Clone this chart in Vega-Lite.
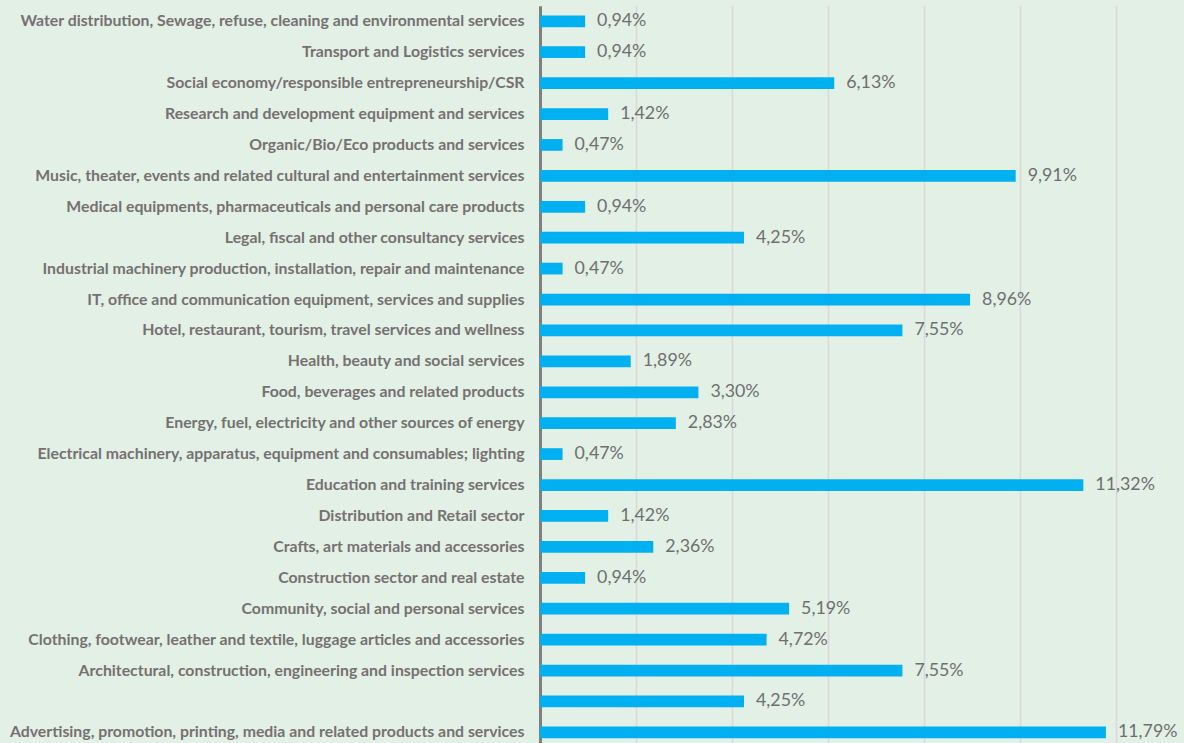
{
  "$schema": "https://vega.github.io/schema/vega-lite/v6.json",
  "autosize": "none",
  "width": 644,
  "height": 742,
  "padding": {"left": 540, "top": 5.8, "right": 0, "bottom": 0},
  "background": "#e2f0e6",
  "config": {
    "view": {"stroke": null},
    "locale": {"number": {"decimal": ",", "thousands": ".", "grouping": [3], "currency": ["", " €"]}}
  },
  "data": {
    "values": [
      {"order": 1, "sector": "Water distribution, Sewage, refuse, cleaning and environmental services", "pct": 0.0094},
      {"order": 2, "sector": "Transport and Logistics services", "pct": 0.0094},
      {"order": 3, "sector": "Social economy/responsible entrepreneurship/CSR", "pct": 0.0613},
      {"order": 4, "sector": "Research and development equipment and services", "pct": 0.0142},
      {"order": 5, "sector": "Organic/Bio/Eco products and services", "pct": 0.0047},
      {"order": 6, "sector": "Music, theater, events and related cultural and entertainment services", "pct": 0.0991},
      {"order": 7, "sector": "Medical equipments, pharmaceuticals and personal care products", "pct": 0.0094},
      {"order": 8, "sector": "Legal, fiscal and other consultancy services", "pct": 0.0425},
      {"order": 9, "sector": "Industrial machinery production, installation, repair and maintenance", "pct": 0.0047},
      {"order": 10, "sector": "IT, office and communication equipment, services and supplies", "pct": 0.0896},
      {"order": 11, "sector": "Hotel, restaurant, tourism, travel services and wellness", "pct": 0.0755},
      {"order": 12, "sector": "Health, beauty and social services", "pct": 0.0189},
      {"order": 13, "sector": "Food, beverages and related products", "pct": 0.0330},
      {"order": 14, "sector": "Energy, fuel, electricity and other sources of energy", "pct": 0.0283},
      {"order": 15, "sector": "Electrical machinery, apparatus, equipment and consumables; lighting", "pct": 0.0047},
      {"order": 16, "sector": "Education and training services", "pct": 0.1132},
      {"order": 17, "sector": "Distribution and Retail sector", "pct": 0.0142},
      {"order": 18, "sector": "Crafts, art materials and accessories", "pct": 0.0236},
      {"order": 19, "sector": "Construction sector and real estate", "pct": 0.0094},
      {"order": 20, "sector": "Community, social and personal services", "pct": 0.0519},
      {"order": 21, "sector": "Clothing, footwear, leather and textile, luggage articles and accessories", "pct": 0.0472},
      {"order": 22, "sector": "Architectural, construction, engineering and inspection services", "pct": 0.0755},
      {"order": 23, "sector": "(blank)", "pct": 0.0425},
      {"order": 24, "sector": "Advertising, promotion, printing, media and related products and services", "pct": 0.1179}
    ]
  },
  "encoding": {
    "y": {
      "field": "sector",
      "type": "nominal",
      "sort": {"field": "order", "op": "min"},
      "scale": {"paddingInner": 0.62, "paddingOuter": 0.31},
      "axis": {
        "title": null,
        "ticks": false,
        "grid": false,
        "domainColor": "#7f7f7f",
        "domainWidth": 3,
        "labelFont": "Lato",
        "labelFontWeight": "bold",
        "labelFontSize": 15.85,
        "labelColor": "#767171",
        "labelPadding": 16,
        "labelLimit": 700,
        "labelExpr": "datum.value == '(blank)' ? '' : datum.value"
      }
    },
    "x": {
      "field": "pct",
      "type": "quantitative",
      "scale": {"domain": [0, 0.13417], "nice": false, "zero": true},
      "axis": {
        "title": null,
        "labels": false,
        "ticks": false,
        "domain": false,
        "grid": true,
        "gridColor": "#d9d9d9",
        "gridWidth": 1.5,
        "values": [0.02, 0.04, 0.06, 0.08, 0.10, 0.12]
      }
    }
  },
  "layer": [
    {"mark": {"type": "bar", "color": "#00b0f0"}},
    {
      "mark": {"type": "text", "align": "left", "baseline": "middle", "dx": 12, "font": "Lato", "fontSize": 17.8, "color": "#6f6f6f"},
      "encoding": {"text": {"field": "pct", "type": "quantitative", "format": ".2%"}}
    }
  ]
}
